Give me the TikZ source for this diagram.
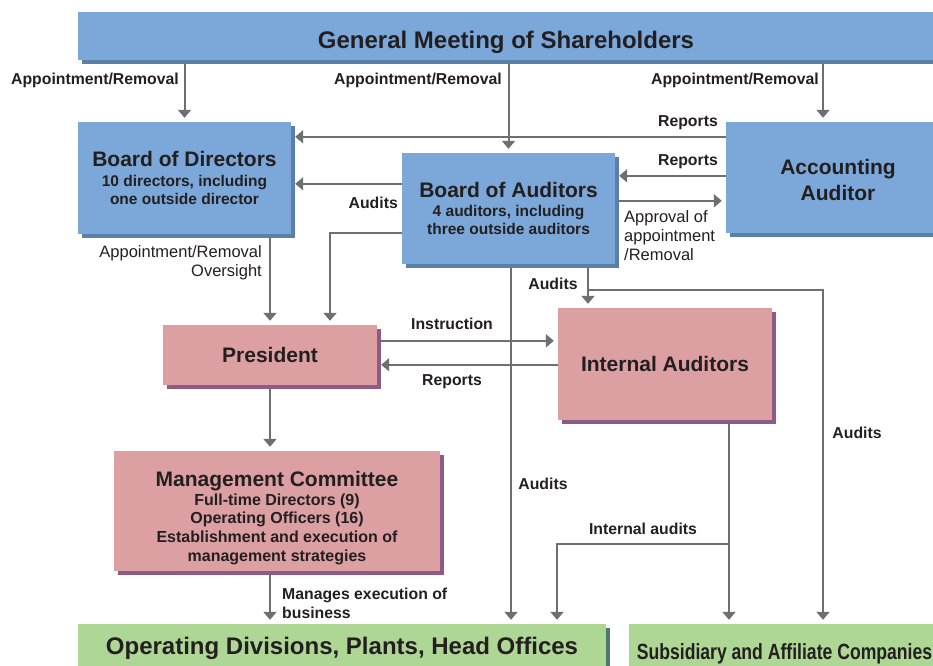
\documentclass[tikz,border=0pt]{standalone}
\usepackage{fontspec}
\setmainfont{Liberation Sans}
\usetikzlibrary{arrows.meta,shadows,backgrounds}

\definecolor{boxblue}{HTML}{7BA7D9}
\definecolor{shdblue}{HTML}{5B80A8}
\definecolor{boxpink}{HTML}{DCA0A2}
\definecolor{shdpink}{HTML}{8C5B87}
\definecolor{boxgreen}{HTML}{AED796}
\definecolor{shdgreen}{HTML}{4D7A66}
\definecolor{linegray}{HTML}{6E6F71}
\definecolor{inkdark}{HTML}{231F20}

\newcommand{\boxhead}{\fontsize{21}{24}\selectfont}

\begin{document}
\begin{tikzpicture}[x=1pt, y=-1pt, >={Triangle[width=13pt,length=8pt]},
    box/.style={rectangle, inner sep=0pt, align=center, text=inkdark,
        font=\fontsize{15.5}{18.5}\selectfont\bfseries},
    bluebox/.style={box, fill=boxblue,
        drop shadow={shadow xshift=4pt, shadow yshift=-4pt, fill=shdblue, opacity=1}},
    pinkbox/.style={box, fill=boxpink,
        drop shadow={shadow xshift=4pt, shadow yshift=-4pt, fill=shdpink, opacity=1}},
    greenbox/.style={box, fill=boxgreen,
        drop shadow={shadow xshift=4pt, shadow yshift=-4pt, fill=shdgreen, opacity=1}},
    arr/.style={draw=linegray, line width=2pt, ->, shorten >=4pt},
    lbl/.style={inner sep=0pt, text=inkdark, font=\fontsize{15.8}{19}\selectfont\bfseries},
    lblreg/.style={inner sep=0pt, text=inkdark, font=\fontsize{16.5}{19}\selectfont}]

    \useasboundingbox (0,0) rectangle (933,665);

    % Boxes
    \node[bluebox, minimum width=856pt, minimum height=48pt, text height=25pt, text depth=0pt,
        font=\fontsize{24}{28}\selectfont\bfseries] (gms) at (506,36) {General Meeting of Shareholders};
    \node[bluebox, minimum width=213pt, minimum height=112pt] (bod) at (184.5,178)
        {{\boxhead Board of Directors}\\[1pt]10 directors, including\\one outside director};
    \node[bluebox, minimum width=213pt, minimum height=111pt] (boa) at (508.5,208.5)
        {{\boxhead Board of Auditors}\\4 auditors, including\\three outside auditors};
    \node[bluebox, minimum width=224pt, minimum height=111pt,
        font=\fontsize{21}{26}\selectfont\bfseries] (acc) at (838,177.5)
        {\rule{0pt}{21pt}Accounting\\Auditor};
    \node[pinkbox, minimum width=214pt, minimum height=60pt,
        font=\boxhead\bfseries] (pres) at (270,355) {President};
    \node[pinkbox, minimum width=214pt, minimum height=112pt,
        font=\boxhead\bfseries] (ia) at (665,364) {Internal Auditors};
    \node[pinkbox, minimum width=326pt, minimum height=120pt,
        font=\fontsize{16}{18.8}\selectfont\bfseries] (mc) at (277,511)
        {\rule{0pt}{29pt}{\boxhead Management Committee}\\Full-time Directors (9)\\Operating Officers (16)\\
         Establishment and execution of\\management strategies};
    \node[greenbox, minimum width=528pt, minimum height=48pt,
        font=\fontsize{24}{28}\selectfont\bfseries] (od) at (342,648) {Operating Divisions, Plants, Head Offices};
    \node[greenbox, minimum width=311pt, minimum height=48pt, text height=22pt, text depth=0pt,
        font=\fontsize{22}{26}\selectfont\bfseries] (sub) at (784.5,648)
        {\scalebox{0.8}[1]{Subsidiary and Affiliate Companies}};

    % Connectors
    \begin{scope}[on background layer]
        \draw[arr] (gms.south -| bod.north) -- (bod.north);
        \draw[arr] (gms.south -| boa.north) -- (boa.north);
        \coordinate (accin) at ([xshift=-15pt]acc.north);
        \draw[arr] (gms.south -| accin) -- (accin);

        \coordinate (rep1) at ([yshift=-15pt]acc.north west);
        \draw[arr] (rep1) -- (rep1 -| bod.east);
        \coordinate (rep2) at ([yshift=-54pt]acc.north west);
        \draw[arr] (rep2) -- (rep2 -| boa.east);
        \coordinate (appr) at ([yshift=-48pt]boa.north east);
        \draw[arr] (appr) -- (appr -| acc.west);
        \coordinate (aud1) at ([yshift=-31pt]boa.north west);
        \draw[arr] (aud1) -- (aud1 -| bod.east);
        \coordinate (aud2) at ([yshift=-80pt]boa.north west);
        \draw[arr] (aud2) -| ([xshift=60pt]pres.north);
        \draw[arr] (pres.north |- bod.south) -- (pres.north);

        \coordinate (aud3) at ([xshift=2.5pt]boa.south);
        \draw[arr] (aud3) -- (aud3 |- od.north);
        \coordinate (aud4) at ([xshift=79.5pt]boa.south);
        \draw[arr] (aud4) -- (aud4 |- ia.north);
        \coordinate (fork) at ([yshift=-26pt]aud4);
        \draw[arr] (fork) -| ([xshift=38.5pt]sub.north);

        \coordinate (ins) at ([yshift=-16pt]pres.north east);
        \draw[arr] (ins) -- (ins -| ia.west);
        \coordinate (rep3) at ([yshift=-57pt]ia.north west);
        \draw[arr] (rep3) -- (rep3 -| pres.east);

        \coordinate (iaout) at ([xshift=64pt]ia.south);
        \draw[arr] (iaout) -- (iaout |- sub.north);
        \coordinate (iafork) at ([yshift=-124pt]iaout);
        \draw[arr] (iafork) -| ([xshift=215pt]od.north);

        \draw[arr] (pres.south) -- (pres.south |- mc.north);
        \draw[arr] (pres.south |- mc.south) -- (pres.south |- od.north);
    \end{scope}

    % Labels
    \node[lbl, anchor=base east] (ar1) at (179,84.7) {Appointment/Removal};
    \node[lbl, anchor=base east] (ar2) at (502,84.7) {Appointment/Removal};
    \node[lbl, anchor=base east] (ar3) at (819,84.7) {Appointment/Removal};
    \node[lbl, anchor=base east] (repl1) at (718,126.7) {Reports};
    \node[lbl, anchor=base east] (repl2) at (718,165.7) {Reports};
    \node[lbl, anchor=base east] (audl1) at (398,208.7) {Audits};
    \node[lblreg, anchor=north west, align=left] (apprl) at (624,210)
        {Approval of\\appointment\\/Removal};
    \node[lblreg, anchor=north east, align=right] (ovsl) at (262,245)
        {Appointment/Removal\\Oversight};
    \node[lbl, anchor=base] (audl2) at (553,289.7) {Audits};
    \node[lbl, anchor=base] (insl) at (452,329.7) {Instruction};
    \node[lbl, anchor=base] (repl3) at (452,385.7) {Reports};
    \node[lbl, anchor=base] (audl3) at (543,489.7) {Audits};
    \node[lbl, anchor=base] (audl4) at (857,438.7) {Audits};
    \node[lbl, anchor=base] (intl) at (643,534.7) {Internal audits};
    \node[lbl, anchor=north west, align=left] (manl) at (282,588)
        {Manages execution of\\business};
\end{tikzpicture}
\end{document}
